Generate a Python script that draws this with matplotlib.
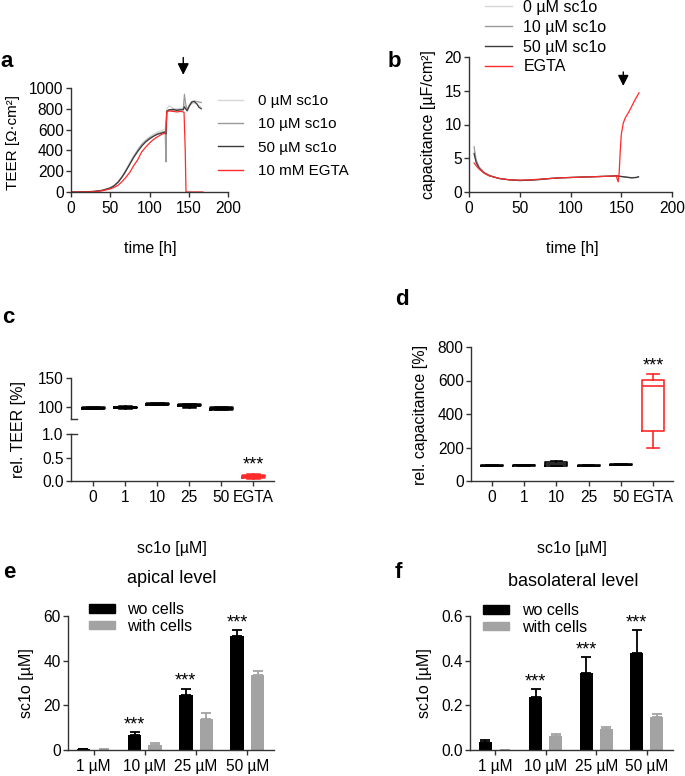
import numpy as np
import matplotlib
matplotlib.use("Agg")
import matplotlib.pyplot as plt
from matplotlib.patches import Patch
from matplotlib.lines import Line2D

plt.rcParams['font.family'] = ['Liberation Sans', 'DejaVu Sans']
plt.rcParams['font.size'] = 11

# ---- panel a: TEER time course ----
teer_t_0 = [0, 10, 20, 30, 40, 50, 55, 60, 65, 70, 75, 80, 85, 90, 95, 100, 105, 110, 115, 119,
            120, 121, 122, 125, 130, 135, 140, 143, 144.5, 146, 148, 151, 154, 157, 160, 163, 166]
teer_0 = [0, 0, 2, 6, 18, 42, 65, 100, 150, 215, 285, 350, 410, 460, 500, 530, 555, 575, 590, 600,
          605, 700, 800, 830, 805, 800, 805, 800, 850, 830, 800, 830, 850, 855, 845, 830, 815]
teer_10 = [0, 0, 2, 6, 16, 40, 62, 92, 140, 200, 270, 340, 400, 455, 490, 520, 540, 560, 572, 580,
           580, 290, 780, 790, 785, 790, 795, 795, 940, 850, 790, 840, 870, 875, 870, 865, 860]
teer_50 = [0, 0, 2, 6, 16, 38, 60, 95, 145, 205, 270, 335, 390, 440, 480, 510, 535, 555, 565, 575,
           575, 560, 775, 790, 795, 785, 790, 790, 820, 800, 780, 830, 865, 870, 850, 815, 800]
teer_t_egta = [0, 10, 20, 30, 40, 50, 55, 60, 65, 70, 75, 80, 85, 90, 95, 100, 105, 110, 115, 119,
               120, 121, 122, 125, 130, 135, 140, 143, 144, 145.5, 146.5, 150, 160, 168]
teer_egta = [0, 0, 1, 4, 12, 30, 45, 65, 100, 142, 190, 255, 310, 385, 430, 470, 505, 530, 552, 565,
             565, 600, 770, 780, 775, 770, 775, 770, 765, 400, 0, 0, 0, 0]
egta_time_a = 143

# ---- panel b: capacitance time course ----
cap_t = [5, 7, 10, 15, 20, 25, 30, 40, 50, 60, 70, 80, 90, 100, 110, 120, 130, 140, 145,
         150, 155, 160, 165, 167]
cap_0 = [6.0, 4.5, 3.6, 2.9, 2.5, 2.2, 2.0, 1.8, 1.75, 1.8, 1.9, 2.0, 2.1, 2.15, 2.2, 2.25, 2.3,
         2.35, 2.4, 2.3, 2.2, 2.15, 2.2, 2.3]
cap_10 = [6.7, 4.8, 3.7, 2.9, 2.5, 2.2, 2.0, 1.8, 1.7, 1.75, 1.85, 2.0, 2.1, 2.15, 2.2, 2.25, 2.3,
          2.35, 2.4, 2.3, 2.2, 2.1, 2.15, 2.25]
cap_50 = [5.7, 4.4, 3.5, 2.8, 2.4, 2.2, 2.0, 1.8, 1.7, 1.75, 1.85, 2.0, 2.1, 2.15, 2.2, 2.25, 2.3,
          2.35, 2.4, 2.3, 2.2, 2.1, 2.15, 2.25]
cap_t_egta = [5, 7, 10, 15, 20, 25, 30, 40, 50, 60, 70, 80, 90, 100, 110, 120, 130, 140, 145,
              147, 148, 149, 150, 152, 154, 158, 163, 167.5]
cap_egta = [4.3, 3.9, 3.4, 2.8, 2.4, 2.2, 2.0, 1.8, 1.75, 1.8, 1.9, 2.0, 2.1, 2.15, 2.2, 2.25, 2.3,
            2.35, 2.4, 1.5, 3.0, 6.0, 8.5, 10.2, 11.0, 12.0, 13.5, 14.7]
egta_time_b = 152

# ---- panels c/d: boxplots (whislo, q1, med, q3, whishi) ----
box_labels = ['0', '1', '10', '25', '50', 'EGTA']
rel_teer = [[97, 97.5, 98, 99, 99.5],
            [98, 98.5, 99, 100, 101],
            [104, 104.5, 105, 106, 107],
            [100, 102, 103, 104.5, 105],
            [95, 96, 97, 98.5, 99],
            [0.07, 0.09, 0.11, 0.13, 0.15]]
rel_cap = [[90, 91, 92, 94, 95],
           [92, 92.5, 93, 93.5, 94],
           [88, 90, 100, 115, 118],
           [89, 90, 92, 94, 95],
           [95, 96, 97, 99, 100],
           [200, 300, 565, 605, 640]]

# ---- panels e/f: bars ----
conc_labels = ['1 µM', '10 µM', '25 µM', '50 µM']
apical_wo = [0.4, 6.7, 24.6, 51.0]
apical_wo_err = [0.2, 1.5, 2.9, 2.7]
apical_with = [0.2, 2.2, 13.9, 33.6]
apical_with_err = [0.1, 1.1, 2.8, 1.8]
baso_wo = [0.037, 0.239, 0.344, 0.436]
baso_wo_err = [0.008, 0.034, 0.072, 0.102]
baso_with = [0.0, 0.063, 0.096, 0.148]
baso_with_err = [0.0, 0.009, 0.009, 0.015]
stars_e = [False, True, True, True]
stars_f = [False, True, True, True]

W, H = 685, 776
fig = plt.figure(figsize=(W / 100, H / 100), dpi=100)

C0, C10, C50, CRED = '#d6d6d6', '#9a9a9a', '#3a3a3a', '#ff2a2a'
SPINE = '#333333'
TICK_FS = 11.2
LAB_FS = 11.5


def px_axes(l, t, r, b):
    ax = fig.add_axes([l / W, 1 - b / H, (r - l) / W, (b - t) / H])
    for s in ['top', 'right']:
        ax.spines[s].set_visible(False)
    for s in ['left', 'bottom']:
        ax.spines[s].set_color(SPINE)
        ax.spines[s].set_linewidth(1.0)
    ax.tick_params(direction='out', length=3.3, width=1, color=SPINE, labelsize=TICK_FS)
    ax.tick_params(axis='x', pad=3.5)
    ax.tick_params(axis='y', pad=2.0)
    return ax


def ftext(x, y, s, **kw):
    fig.text(x / W, 1 - y / H, s, **kw)


# panel a
ax = px_axes(71, 88, 228, 192)
ax.plot(teer_t_0, teer_0, color=C0, lw=0.9)
ax.plot(teer_t_0, teer_10, color=C10, lw=0.9)
ax.plot(teer_t_0, teer_50, color=C50, lw=0.9)
ax.plot(teer_t_egta, teer_egta, color=CRED, lw=0.9)
ax.set_xlim(0, 200)
ax.set_ylim(0, 1000)
ax.set_xticks([0, 50, 100, 150, 200])
ax.set_yticks(range(0, 1001, 200))
ax.annotate('', xy=(egta_time_a, 1100), xytext=(egta_time_a, 1320),
            arrowprops=dict(arrowstyle='-|>', color='black', lw=1, mutation_scale=17),
            annotation_clip=False)
handles = [Line2D([], [], color=c, lw=1) for c in (C0, C10, C50, CRED)]
fig.legend(handles, ['0 µM sc1o', '10 µM sc1o', '50 µM sc1o', '10 mM EGTA'],
           loc='upper left', bbox_to_anchor=(218 / W, 1 - 94 / H), frameon=False,
           fontsize=10.9, handlelength=1.65, handletextpad=1.0, labelspacing=0.62,
           borderpad=0, borderaxespad=0)
ftext(150, 249, 'time [h]', ha='center', va='center', fontsize=LAB_FS)
ftext(13, 142, 'TEER [Ω·cm²]', ha='center', va='center', rotation=90, fontsize=11)
ftext(0, 67, 'a', fontsize=16, fontweight='bold', va='baseline')

# panel b
ax = px_axes(469, 57, 672, 192)
ax.plot(cap_t, cap_0, color=C0, lw=0.9)
ax.plot(cap_t, cap_10, color=C10, lw=0.9)
ax.plot(cap_t, cap_50, color=C50, lw=0.9)
ax.plot(cap_t_egta, cap_egta, color=CRED, lw=0.9)
ax.set_xlim(0, 200)
ax.set_ylim(0, 20)
ax.set_xticks([0, 50, 100, 150, 200])
ax.set_yticks([0, 5, 10, 15, 20])
ax.annotate('', xy=(egta_time_b, 15.3), xytext=(egta_time_b, 18.2),
            arrowprops=dict(arrowstyle='-|>', color='black', lw=1, mutation_scale=16),
            annotation_clip=False)
fig.legend(handles, ['0 µM sc1o', '10 µM sc1o', '50 µM sc1o', 'EGTA'],
           loc='upper left', bbox_to_anchor=(485 / W, 1.0), frameon=False,
           fontsize=11.5, handlelength=1.7, handletextpad=0.7, labelspacing=0.3,
           borderpad=0, borderaxespad=0)
ftext(572, 249, 'time [h]', ha='center', va='center', fontsize=LAB_FS)
ftext(428, 125, 'capacitance [µF/cm²]', ha='center', va='center', rotation=90, fontsize=LAB_FS)
ftext(388, 67, 'b', fontsize=16, fontweight='bold', va='baseline')


def box_stats(rows):
    return [dict(whislo=r[0], q1=r[1], med=r[2], q3=r[3], whishi=r[4], fliers=[]) for r in rows]


def draw_boxes(ax, stats, pos, color, lw):
    props = dict(color=color, linewidth=lw)
    ax.bxp(stats, positions=pos, widths=0.68, showfliers=False, capwidths=0.36,
           boxprops=props, medianprops=props, whiskerprops=props, capprops=props,
           manage_ticks=False)


pos = np.arange(len(box_labels))

# panel c (broken axis)
ax_top = px_axes(71, 378, 274, 418.5)
ax_bot = px_axes(71, 434, 274, 481)
draw_boxes(ax_top, box_stats(rel_teer[:5]), pos[:5], 'black', 1.8)
draw_boxes(ax_bot, box_stats(rel_teer[5:]), pos[5:], CRED, 1.8)
for a_ in (ax_top, ax_bot):
    a_.set_xlim(-0.69, 5.66)
ax_top.set_ylim(79, 150)
ax_top.set_yticks([100, 150])
ax_top.spines['bottom'].set_visible(False)
ax_top.tick_params(axis='x', bottom=False, labelbottom=False)
ax_top.plot([0, 0.03], [0, 0], transform=ax_top.transAxes, color=SPINE, lw=1, clip_on=False)
ax_bot.set_ylim(0, 1.0)
ax_bot.set_yticks([0.0, 0.5, 1.0])
ax_bot.set_yticklabels(['0.0', '0.5', '1.0'])
ax_bot.plot([0, 0.03], [1, 1], transform=ax_bot.transAxes, color=SPINE, lw=1, clip_on=False)
ax_bot.set_xticks(pos)
ax_bot.set_xticklabels(box_labels)
ax_bot.text(pos[5], rel_teer[5][4] + 0.19, '***', ha='center', va='center', fontsize=13)
ftext(172, 549, 'sc1o [µM]', ha='center', va='center', fontsize=LAB_FS)
ftext(19, 430, 'rel. TEER [%]', ha='center', va='center', rotation=90, fontsize=LAB_FS)
ftext(2, 323, 'c', fontsize=16, fontweight='bold', va='baseline')

# panel d
ax = px_axes(471, 347, 673, 481)
draw_boxes(ax, box_stats(rel_cap[:5]), pos[:5], 'black', 1.2)
draw_boxes(ax, box_stats(rel_cap[5:]), pos[5:], CRED, 1.2)
ax.set_xlim(-0.65, 5.62)
ax.set_ylim(0, 800)
ax.set_yticks(range(0, 801, 200))
ax.set_xticks(pos)
ax.set_xticklabels(box_labels)
ax.text(pos[5], rel_cap[5][4] + 45, '***', ha='center', va='center', fontsize=13)
ftext(572, 549, 'sc1o [µM]', ha='center', va='center', fontsize=LAB_FS)
ftext(420, 415, 'rel. capacitance [%]', ha='center', va='center', rotation=90, fontsize=LAB_FS)
ftext(395, 305, 'd', fontsize=16, fontweight='bold', va='baseline')


def bar_panel(ax, wo, wo_err, wi, wi_err, stars, ymax, yticks, star_off):
    x = np.arange(len(conc_labels))
    ax.bar(x - 0.2, wo, width=0.26, color='black')
    ax.bar(x + 0.2, wi, width=0.26, color='#a3a3a3')
    ax.errorbar(x - 0.2, wo, yerr=[np.zeros(len(wo)), wo_err], fmt='none', ecolor='black',
                elinewidth=1.3, capsize=3.3, capthick=1.3)
    ax.errorbar(x + 0.2, wi, yerr=[np.zeros(len(wi)), wi_err], fmt='none', ecolor='#a3a3a3',
                elinewidth=1.3, capsize=3.3, capthick=1.3)
    for i, s in enumerate(stars):
        if s:
            ax.text(x[i] - 0.2, wo[i] + wo_err[i] + star_off, '***', ha='center',
                    va='center', fontsize=13)
    ax.set_xticks(x)
    ax.set_xticklabels(conc_labels)
    ax.set_xlim(-0.5, 3.52)
    ax.set_ylim(0, ymax)
    ax.set_yticks(yticks)


leg_handles = [Patch(color='black'), Patch(color='#a3a3a3')]

# panel e
ax = px_axes(68, 616, 274, 750)
bar_panel(ax, apical_wo, apical_wo_err, apical_with, apical_with_err, stars_e, 60,
          [0, 20, 40, 60], 3.2)
fig.legend(leg_handles, ['wo cells', 'with cells'], loc='upper left',
           bbox_to_anchor=(89 / W, 1 - 602 / H), frameon=False, fontsize=11.5,
           handlelength=1.6, handleheight=0.45, handletextpad=0.75, labelspacing=0.1,
           borderpad=0, borderaxespad=0)
ftext(172, 583, 'apical level', ha='center', va='baseline', fontsize=13)
ftext(27, 683, 'sc1o [µM]', ha='center', va='center', rotation=90, fontsize=LAB_FS)
ftext(3, 578, 'e', fontsize=16, fontweight='bold', va='baseline')

# panel f
ax = px_axes(470, 616, 673, 750)
bar_panel(ax, baso_wo, baso_wo_err, baso_with, baso_with_err, stars_f, 0.6,
          [0.0, 0.2, 0.4, 0.6], 0.032)
ax.set_yticklabels(['0.0', '0.2', '0.4', '0.6'])
fig.legend(leg_handles, ['wo cells', 'with cells'], loc='upper left',
           bbox_to_anchor=(483 / W, 1 - 603 / H), frameon=False, fontsize=11.5,
           handlelength=1.6, handleheight=0.45, handletextpad=0.85, labelspacing=0.1,
           borderpad=0, borderaxespad=0)
ftext(573, 586, 'basolateral level', ha='center', va='baseline', fontsize=13)
ftext(425, 683, 'sc1o [µM]', ha='center', va='center', rotation=90, fontsize=LAB_FS)
ftext(395, 578, 'f', fontsize=16, fontweight='bold', va='baseline')

fig.savefig('out.png', dpi=100)
